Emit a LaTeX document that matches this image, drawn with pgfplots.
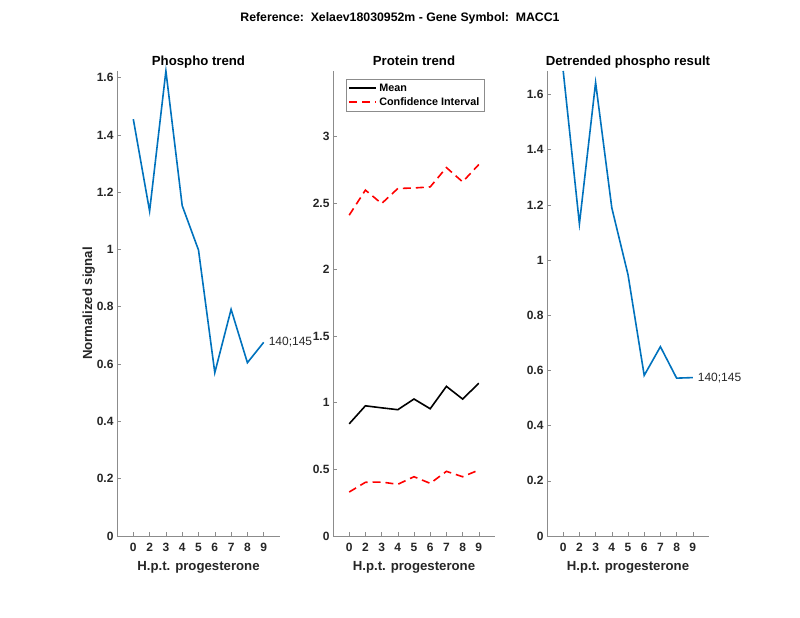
\documentclass[border=0pt]{standalone}
\usepackage{fontspec}
\setmainfont{Liberation Sans}
\usepackage{pgfplots}
\pgfplotsset{compat=1.18}
\definecolor{mblue}{rgb}{0,0.447,0.741}
\definecolor{axgray}{gray}{0.55}
\definecolor{txt}{gray}{0.15}
\pgfplotsset{
 mystyle/.style={
  scale only axis, height=465pt, anchor=south west,
  axis lines*=left, xmin=0, xmax=10, ymin=0,
  xtick={1,...,9}, xticklabels={0,2,3,4,5,6,7,8,9},
  tick align=inside, major tick length=4pt, minor tick num=0,
  axis line style={draw=axgray, line width=0.6pt},
  every tick/.style={draw=axgray, line width=0.6pt},
  tick label style={font=\bfseries\fontsize{12}{14}\selectfont, text=txt},
  xticklabel style={yshift=-4pt},
  /pgf/number format/assume math mode=true,
  title style={font=\bfseries\fontsize{13.2}{15}\selectfont, text=black, yshift=-7pt, text depth=3pt},
  xlabel={H.p.t. progesterone},
  label style={font=\bfseries\fontsize{13.2}{15}\selectfont, text=txt},
  xlabel style={yshift=-3pt},
  clip=false,
 }
}
\begin{document}
\begin{tikzpicture}[x=1pt,y=1pt]
\useasboundingbox (0,0) rectangle (800,618);
\node[font=\bfseries\fontsize{12.3}{14}\selectfont] at (400,600) {Reference:\ \ Xelaev18030952m - Gene Symbol:\ \ MACC1};

% Panel 1
\begin{axis}[mystyle, at={(117pt,82pt)}, width=163pt,
  ymax=1.623, ytick={0,0.2,0.4,0.6,0.8,1,1.2,1.4,1.6},
  title={Phospho trend}, ylabel={Normalized signal},
  ylabel style={yshift=-5pt}]
\addplot[mblue, line width=1.6pt] coordinates {
 (1,1.455) (2,1.134) (3,1.623) (4,1.153) (5,0.998) (6,0.570) (7,0.791) (8,0.605) (9,0.676)};
\node[anchor=west, font=\fontsize{12}{14}\selectfont, text=txt, inner sep=0pt] at (axis cs:9.3,0.676) {140;145};
\end{axis}

% Panel 2
\begin{axis}[mystyle, at={(333pt,82pt)}, width=162pt,
  ymax=3.49, ytick={0,0.5,1,1.5,2,2.5,3},
  title={Protein trend},
  legend style={at={(axis description cs:0.08,0.983)}, anchor=north west,
    draw=axgray, font=\bfseries\fontsize{10.8}{12}\selectfont, text=black,
    row sep=1pt, inner sep=2.5pt},
  legend cell align=left,
  legend image code/.code={\draw[#1, line width=1.6pt] (0pt,0pt) -- (27pt,0pt);}]
\addplot[black, line width=1.6pt] coordinates {
 (1,0.842) (2,0.977) (3,0.962) (4,0.948) (5,1.028) (6,0.955) (7,1.123) (8,1.028) (9,1.146)};
\addlegendentry{Mean}
\addplot[red, line width=1.6pt, dash pattern=on 8pt off 5pt] coordinates {
 (1,2.408) (2,2.596) (3,2.495) (4,2.608) (5,2.612) (6,2.620) (7,2.765) (8,2.658) (9,2.788)};
\addlegendentry{Confidence Interval}
\addplot[red, line width=1.6pt, dash pattern=on 8pt off 5pt, forget plot] coordinates {
 (1,0.330) (2,0.403) (3,0.405) (4,0.388) (5,0.445) (6,0.395) (7,0.485) (8,0.445) (9,0.495)};
\end{axis}

% Panel 3
\begin{axis}[mystyle, at={(547pt,82pt)}, width=162pt,
  ymax=1.685, ytick={0,0.2,0.4,0.6,0.8,1,1.2,1.4,1.6},
  title={Detrended phospho result}]
\addplot[mblue, line width=1.6pt] coordinates {
 (1,1.685) (2,1.131) (3,1.643) (4,1.189) (5,0.947) (6,0.582) (7,0.686) (8,0.572) (9,0.574)};
\node[anchor=west, font=\fontsize{12}{14}\selectfont, text=txt, inner sep=0pt] at (axis cs:9.3,0.574) {140;145};
\end{axis}
\end{tikzpicture}
\end{document}
